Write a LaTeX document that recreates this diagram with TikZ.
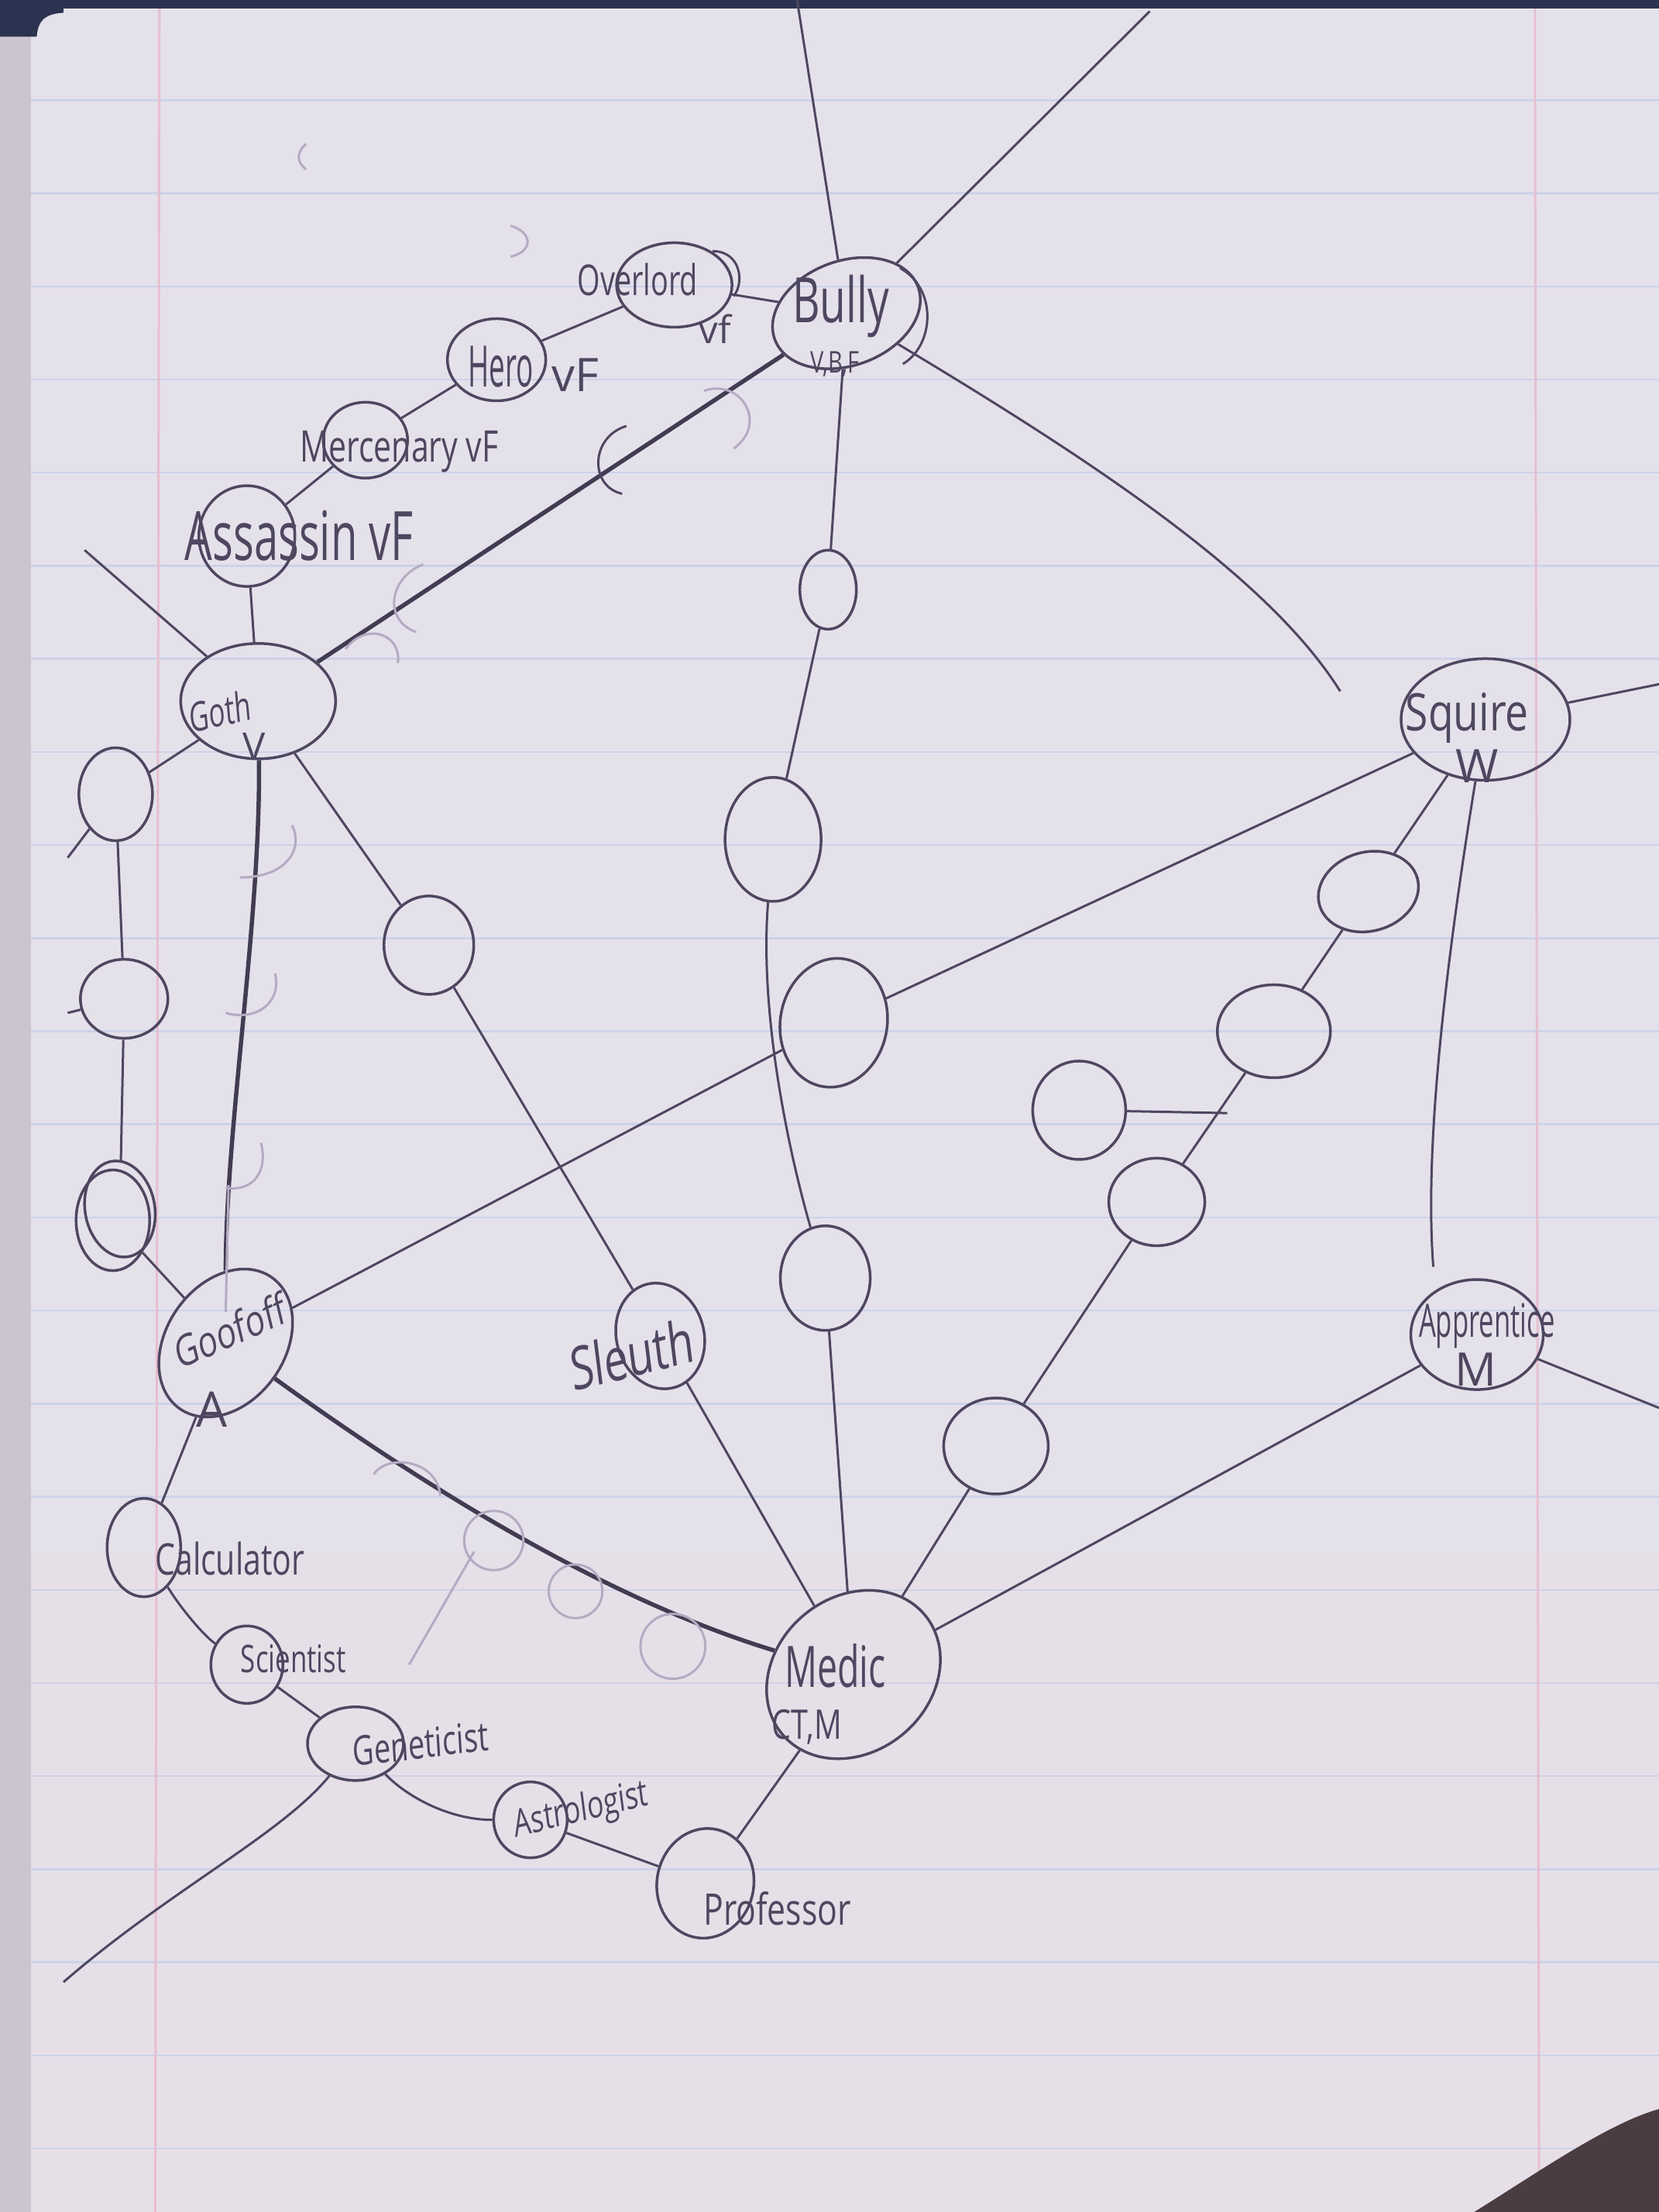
\documentclass[tikz,border=0pt]{standalone}
\usepackage{fontspec}
\setmainfont{Open Sans}
\usetikzlibrary{shapes.geometric}
\definecolor{paper}{HTML}{E5E1EB}
\definecolor{pencil}{HTML}{4E4760}
\definecolor{faint}{HTML}{B3ABC2}
\definecolor{rule}{HTML}{CCD2E8}
\definecolor{margin}{HTML}{E6BFD0}
\definecolor{binding}{HTML}{CBC4D1}
\definecolor{navy}{HTML}{2B3350}
\definecolor{corner}{HTML}{4A3C40}
\begin{document}
\begin{tikzpicture}[x=0.18214mm,y=-0.18214mm,
  bub/.style={ellipse,draw=pencil,line width=0.35mm,inner sep=0pt},
  sz/.style 2 args={minimum width=#1mm,minimum height=#2mm},
  lbl/.style={text=pencil,inner sep=0pt,font=\fontsize{#1}{#1}\selectfont},
  edge/.style={draw=pencil,line width=0.3mm},
  heavy/.style={draw=pencil!85!black,line width=0.55mm},
  ghost/.style={draw=faint,line width=0.3mm}]
% ---------- paper ----------
\useasboundingbox (0,0) rectangle (1176,1568);
\fill[paper] (0,0) rectangle (1176,1568);
\fill[paper!93!pink] (0,1100) rectangle (1176,1568);
\fill[binding] (0,0) rectangle (22,1568);
\foreach \yy in {71,137,...,1523} \draw[rule,line width=0.25mm] (22,\yy) -- (1176,\yy);
\draw[margin,line width=0.3mm] (113,0) -- (110,1568);
\draw[margin,line width=0.3mm] (1088,0) -- (1091,1568);
\fill[navy] (0,0) rectangle (1176,6);
\fill[navy] (0,0) -- (45,0) -- (45,9) .. controls (30,10) and (27,16) .. (26,26) -- (0,26) -- cycle;
\fill[corner] (1176,1495) -- (1176,1568) -- (1045,1568) .. controls (1090,1540) and (1140,1505) .. cycle;
% ---------- named bubbles ----------
\node[bub,sz={14.9}{10.9}] (overlord) at (478,202) {};
\node[bub,sz={19.7}{13.5},rotate=20] (bully) at (600,222) {};
\node[bub,sz={12.7}{10.6}] (hero) at (352,255) {};
\node[bub,sz={10.9}{9.8}] (merc) at (259,312) {};
\node[bub,sz={12.4}{13.0}] (assassin) at (175,380) {};
\node[bub,sz={20}{14.9}] (goth) at (183,497) {};
\node[bub,sz={21.8}{15.7}] (squire) at (1053,510) {};
\node[bub,sz={17.1}{14.2}] (apprentice) at (1047,946) {};
\node[bub,sz={20.7}{15.3},rotate=55] (goofoff) at (160,952) {};
\node[bub,sz={11.3}{13.8},rotate=15] (sleuth) at (468,947) {};
\node[bub,sz={9.5}{12.7}] (calc) at (102,1097) {};
\node[bub,sz={9.3}{10}] (sci) at (175,1180) {};
\node[bub,sz={12.4}{9.5}] (gen) at (252,1236) {};
\node[bub,sz={9.5}{9.8}] (astro) at (376,1290) {};
\node[bub,sz={12.5}{14.2},rotate=-10] (prof) at (500,1335) {};
\node[bub,sz={24}{20},rotate=40] (medic) at (605,1187) {};
% ---------- empty bubbles ----------
\node[bub,sz={7.3}{10.2}] (e1) at (587,418) {};
\node[bub,sz={12.4}{16}] (e2) at (548,595) {};
\node[bub,sz={13.8}{16.7},rotate=-10] (e3) at (591,725) {};
\node[bub,sz={11.6}{13.5}] (e4) at (585,906) {};
\node[bub,sz={11.6}{12.7}] (e5) at (304,670) {};
\node[bub,sz={9.5}{12}] (l1) at (82,563) {};
\node[bub,sz={11.3}{10.2}] (l2) at (88,708) {};
\node[bub,sz={9.5}{13}] (l3) at (80,865) {};
\node[bub,sz={9}{12.5},rotate=10] (l3b) at (85,857) {};
\node[bub,sz={13.1}{10.2},rotate=15] (r1) at (970,632) {};
\node[bub,sz={14.6}{12}] (r2) at (903,731) {};
\node[bub,sz={12.4}{11.3}] (r3) at (820,852) {};
\node[bub,sz={13.5}{12.4}] (r4) at (706,1025) {};
\node[bub,sz={12}{12.7}] (r5) at (765,787) {};
% ---------- labels ----------
\node[lbl=15.6,xscale=0.69] (t-overlord) at (452,198) {Overlord};
\node[lbl=14] (t-overlord2) at (507,233) {vf};
\node[lbl=23,xscale=0.68] (t-bully) at (596,217) {Bully};
\node[lbl=11,xscale=0.75] (t-bully2) at (592,258) {V,B,F};
\node[lbl=21,xscale=0.5] (t-hero) at (355,260) {Hero};
\node[lbl=17] (t-hero2) at (408,266) {vF};
\node[lbl=16,xscale=0.73] (t-merc) at (283,320) {Mercenary vF};
\node[lbl=25,xscale=0.64] (t-assassin) at (212,380) {Assassin vF};
\node[lbl=15,xscale=0.66,rotate=8] (t-goth) at (156,504) {Goth};
\node[lbl=14] (t-goth2) at (180,529) {V};
\node[lbl=19,xscale=0.8] (t-squire) at (1040,509) {Squire};
\node[lbl=17] (t-squire2) at (1047,543) {W};
\node[lbl=17,xscale=0.58] (t-apprentice) at (1054,940) {Apprentice};
\node[lbl=17] (t-apprentice2) at (1046,971) {M};
\node[lbl=16,xscale=0.74,rotate=18] (t-goofoff) at (163,943) {Goofoff};
\node[lbl=18] (t-goofoff2) at (150,999) {A};
\node[lbl=22,xscale=0.71,rotate=10] (t-sleuth) at (448,960) {Sleuth};
\node[lbl=16,xscale=0.73] (t-calc) at (163,1105) {Calculator};
\node[lbl=14,xscale=0.71] (t-sci) at (208,1176) {Scientist};
\node[lbl=15,xscale=0.72,rotate=5] (t-gen) at (298,1236) {Geneticist};
\node[lbl=14,xscale=0.72,rotate=10] (t-astro) at (412,1284) {Astrologist};
\node[lbl=16,xscale=0.76] (t-prof) at (551,1353) {Professor};
\node[lbl=21,xscale=0.63] (t-medic) at (592,1181) {Medic};
\node[lbl=15,xscale=0.75] (t-medic2) at (572,1224) {CT,M};
% ---------- free ends ----------
\coordinate (top1) at (565,0);
\coordinate (top2) at (815,8);
\coordinate (br) at (950,490);
\coordinate (gul) at (60,390);
\coordinate (s1) at (48,608);
\coordinate (s2) at (48,718);
\coordinate (sqr) at (1176,485);
\coordinate (sqd) at (1016,898);
\coordinate (apr) at (1176,998);
\coordinate (gl) at (45,1405);
\coordinate (r5e) at (870,789);
% ---------- connectors ----------
\draw[edge] (overlord) -- (bully);
\draw[edge] (overlord) -- (hero);
\draw[edge] (hero) -- (merc);
\draw[edge] (merc) -- (assassin);
\draw[edge] (assassin) -- (goth);
\draw[heavy] (goth) -- (bully);
\draw[edge] (bully) -- (top1);
\draw[edge] (bully) -- (top2);
\draw[edge] (bully) .. controls (780,330) and (900,410) .. (br);
\draw[edge] (bully) -- (e1);
\draw[edge] (e1) -- (e2);
\draw[edge] (e2) .. controls (538,720) and (560,820) .. (e4);
\draw[edge] (e4) -- (medic);
\draw[heavy] (goth) .. controls (185,650) and (160,800) .. (goofoff);
\draw[edge] (goth) -- (e5);
\draw[edge] (e5) -- (sleuth);
\draw[edge] (sleuth) -- (medic);
\draw[edge] (goth) -- (gul);
\draw[edge] (goth) -- (l1);
\draw[edge] (l1) -- (l2);
\draw[edge] (l1) -- (s1);
\draw[edge] (l2) -- (s2);
\draw[edge] (l2) -- (l3b);
\draw[edge] (l3) -- (goofoff);
\draw[edge] (squire) -- (e3);
\draw[edge] (e3) -- (goofoff);
\draw[edge] (squire) -- (sqr);
\draw[edge] (squire) .. controls (1022,700) and (1010,820) .. (sqd);
\draw[edge] (squire) -- (r1);
\draw[edge] (r1) -- (r2);
\draw[edge] (r2) -- (r3);
\draw[edge] (r3) -- (r4);
\draw[edge] (r4) -- (medic);
\draw[edge] (r5) -- (r5e);
\draw[edge] (apprentice) -- (medic);
\draw[edge] (apprentice) -- (apr);
\draw[heavy] (goofoff) .. controls (330,1075) and (450,1140) .. (medic);
\draw[edge] (goofoff) -- (calc);
\draw[edge] (calc) .. controls (128,1140) and (145,1160) .. (sci);
\draw[edge] (sci) -- (gen);
\draw[edge] (gen) .. controls (290,1275) and (320,1290) .. (astro);
\draw[edge] (astro) -- (prof);
\draw[edge] (prof) -- (medic);
\draw[edge] (gen) .. controls (200,1300) and (120,1340) .. (gl);
% ---------- sketch marks ----------
\draw[edge] (444,302) .. controls (418,310) and (418,345) .. (441,350);
\draw[edge] (638,190) .. controls (665,205) and (662,245) .. (640,258);
\draw[edge] (505,178) .. controls (525,178) and (528,200) .. (520,210);
\draw[ghost] (499,277) .. controls (525,268) and (545,300) .. (520,318);
\draw[ghost] (300,400) .. controls (275,410) and (272,440) .. (295,448);
\draw[ghost] (245,460) .. controls (260,440) and (285,450) .. (282,470);
\draw[ghost] (207,585) .. controls (215,600) and (205,622) .. (170,622);
\draw[ghost] (195,690) .. controls (200,712) and (180,724) .. (160,718);
\draw[ghost] (185,810) .. controls (190,830) and (180,845) .. (160,842);
\draw[ghost] (162,840) -- (160,930);
\draw[ghost] (265,1045) .. controls (275,1030) and (310,1035) .. (312,1060);
\draw[ghost] (350,1092) circle[radius=21];
\draw[ghost] (408,1128) circle[radius=19];
\draw[ghost] (477,1167) circle[radius=23];
\draw[ghost] (290,1180) -- (336,1100);
\draw[ghost] (362,160) .. controls (378,165) and (378,178) .. (362,182);
\draw[ghost] (217,102) .. controls (210,108) and (210,115) .. (217,120);
\end{tikzpicture}
\end{document}
